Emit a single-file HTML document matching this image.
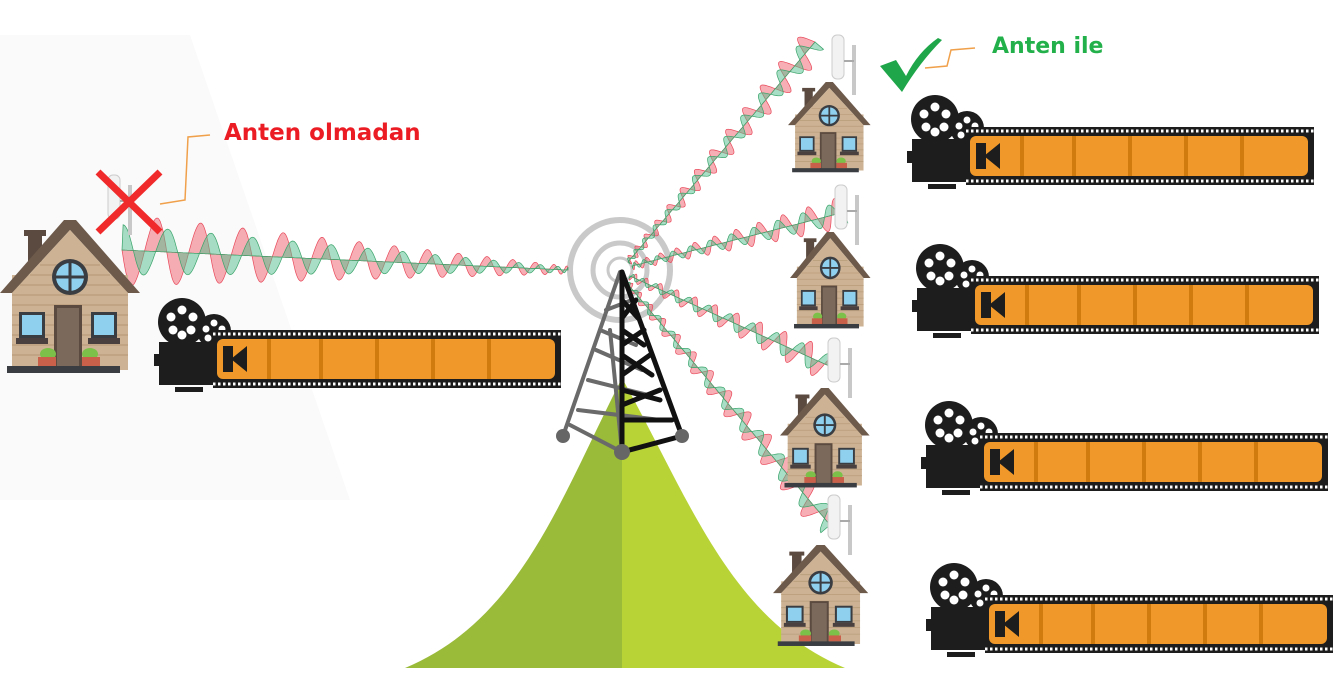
<!DOCTYPE html>
<html><head><meta charset="utf-8"><style>
html,body{margin:0;padding:0;background:#fff;}
svg{display:block;}
text{font-family:"DejaVu Sans","Liberation Sans",sans-serif;font-weight:bold;}
</style></head><body>
<svg id="s" width="1338" height="674" viewBox="0 0 1338 674" xmlns="http://www.w3.org/2000/svg">
<defs>
<g id="house">
 <rect x="28" y="12" width="14" height="30" fill="#5b4a3f"/>
 <rect x="24" y="10" width="22" height="6" fill="#5b4a3f"/>
 <rect x="12" y="55" width="116" height="95" fill="#cdb394"/>
 <g stroke="#b89c7a" stroke-width="1.2">
  <line x1="12" y1="65" x2="128" y2="65"/><line x1="12" y1="75" x2="128" y2="75"/><line x1="12" y1="85" x2="128" y2="85"/><line x1="12" y1="95" x2="128" y2="95"/><line x1="12" y1="105" x2="128" y2="105"/><line x1="12" y1="115" x2="128" y2="115"/><line x1="12" y1="125" x2="128" y2="125"/><line x1="12" y1="135" x2="128" y2="135"/>
 </g>
 <polygon points="0,73 64,0 76,0 140,73 128,73 70,10 12,73" fill="#6e5a4b"/>
 <polygon points="12,73 70,10 128,73" fill="#cdb394"/>
 <g stroke="#b89c7a" stroke-width="1.2"><line x1="40" y1="45" x2="100" y2="45"/><line x1="30" y1="55" x2="110" y2="55"/><line x1="20" y1="65" x2="120" y2="65"/></g>
 <circle cx="70" cy="57" r="18" fill="#3a3d42"/>
 <circle cx="70" cy="57" r="14" fill="#8fd0ef"/>
 <line x1="70" y1="42" x2="70" y2="72" stroke="#3a3d42" stroke-width="3"/>
 <line x1="55" y1="57" x2="85" y2="57" stroke="#3a3d42" stroke-width="3"/>
 <rect x="54" y="85" width="28" height="62" fill="#5b4a3f"/>
 <rect x="57" y="88" width="22" height="59" fill="#7b6a5c"/>
 <rect x="19" y="92" width="26" height="26" fill="#3a3d42"/><rect x="22" y="95" width="20" height="20" fill="#8fd0ef"/>
 <rect x="91" y="92" width="26" height="26" fill="#3a3d42"/><rect x="94" y="95" width="20" height="20" fill="#8fd0ef"/>
 <rect x="16" y="118" width="32" height="6" fill="#4a4040"/><rect x="88" y="118" width="32" height="6" fill="#4a4040"/>
 <ellipse cx="48" cy="134" rx="8" ry="6" fill="#7cc04a"/><ellipse cx="90" cy="134" rx="8" ry="6" fill="#7cc04a"/>
 <rect x="38" y="137" width="18" height="9" fill="#c9604a"/><rect x="82" y="137" width="18" height="9" fill="#c9604a"/>
 <rect x="7" y="146" width="113" height="7" fill="#3a3d42"/>
</g>
<g id="film">
 <circle cx="37" cy="24" r="24" fill="#1d1d1d"/>
 <g fill="#fff"><circle cx="37" cy="12" r="4.5"/><circle cx="48" cy="19" r="4.5"/><circle cx="46" cy="32" r="4.5"/><circle cx="28" cy="32" r="4.5"/><circle cx="26" cy="19" r="4.5"/><circle cx="37" cy="37" r="4.5"/></g>
 <circle cx="69" cy="33" r="17" fill="#1d1d1d"/>
 <g fill="#fff"><circle cx="69" cy="25" r="3.5"/><circle cx="77" cy="31" r="3.5"/><circle cx="74" cy="40" r="3.5"/><circle cx="63" cy="40" r="3.5"/><circle cx="61" cy="31" r="3.5"/></g>
 <rect x="9" y="56" width="8" height="12" fill="#1d1d1d"/>
 <rect x="14" y="44" width="70" height="43" fill="#1d1d1d"/>
 <rect x="30" y="89" width="28" height="5" fill="#1d1d1d"/>
 <rect x="68" y="32" width="348" height="58" fill="#1d1d1d"/>
 <line x1="68" y1="36" x2="416" y2="36" stroke="#fff" stroke-width="3" stroke-dasharray="2.5 2.5"/>
 <line x1="68" y1="86" x2="416" y2="86" stroke="#fff" stroke-width="3" stroke-dasharray="2.5 2.5"/>
 <rect x="72" y="41" width="338" height="40" rx="6" fill="#f0992a"/>
 <g fill="#cf7b0e"><rect x="122" y="41" width="4" height="40"/><rect x="174" y="41" width="4" height="40"/><rect x="230" y="41" width="4" height="40"/><rect x="286" y="41" width="4" height="40"/><rect x="342" y="41" width="4" height="40"/></g>
 <rect x="78" y="48" width="10" height="26" fill="#1d1d1d"/>
 <polygon points="86,61 102,48 102,74" fill="#1d1d1d"/>
</g>
<g id="ant">
 <rect x="0" y="0" width="12" height="44" rx="5" fill="#f2f2f2" stroke="#ccc"/>
 <rect x="20" y="10" width="4" height="50" fill="#c8c8c8"/>
 <line x1="12" y1="26" x2="22" y2="26" stroke="#aaa" stroke-width="2"/>
</g>
</defs>
<rect width="1338" height="674" fill="#fff"/>
<polygon points="0,35 190,35 350,500 0,500" fill="#fafafa"/>
<path d="M405,668 C520,620 560,500 622,378 L622,668 Z" fill="#9aba3a"/>
<path d="M622,378 C690,500 730,620 845,668 L622,668 Z" fill="#b7d336"/>
<g fill="none" stroke="#c9c9c9">
<circle cx="620" cy="270" r="50" stroke-width="6"/><circle cx="620" cy="270" r="27" stroke-width="5"/><circle cx="620" cy="270" r="12" stroke-width="3"/>
</g>
<g id="waves"></g>
<g stroke-linecap="round" fill="none">
<g stroke="#6a6a6a" stroke-width="4">
 <path d="M620,272 L563,436"/><path d="M610,330 L622,452"/>
 <path d="M606,310 L632,300 M600,330 L636,345 M596,350 L642,370 M588,380 L648,395 M578,410 L660,420 M570,425 L622,452"/>
</g>
<g stroke="#111" stroke-width="5">
 <path d="M622,272 L682,436"/><path d="M622,272 L622,452"/>
 <path d="M622,300 L638,318 M622,330 L644,345 M622,355 L652,375 M622,390 L660,400 M622,420 L672,420 M682,436 L622,452"/>
 <path d="M622,318 L636,300 M622,345 L644,330 M622,375 L650,355 M622,405 L660,390"/>
</g>
</g>
<circle cx="563" cy="436" r="7" fill="#666"/><circle cx="682" cy="436" r="7" fill="#666"/><circle cx="622" cy="452" r="8" fill="#666"/>
<use href="#ant" x="108" y="175"/>
<use href="#house" x="0" y="220"/>
<use href="#film" x="145" y="298"/>
<use href="#ant" x="832" y="35"/>
<use href="#house" transform="translate(788,82) scale(0.59)"/>
<use href="#film" x="898" y="95"/>
<use href="#ant" x="835" y="185"/>
<use href="#house" transform="translate(790,232) scale(0.575,0.63)"/>
<use href="#film" x="903" y="244"/>
<use href="#ant" x="828" y="338"/>
<use href="#house" transform="translate(780,388) scale(0.64,0.65)"/>
<use href="#film" x="912" y="401"/>
<use href="#ant" x="828" y="495"/>
<use href="#house" transform="translate(773,545) scale(0.68,0.66)"/>
<use href="#film" x="917" y="563"/>
<g stroke="#f02a2a" stroke-width="7" stroke-linecap="butt"><line x1="98" y1="172" x2="160" y2="232"/><line x1="160" y1="172" x2="98" y2="232"/></g>
<path d="M880,66 L896,60 L906,76 Q918,52 938,38 L942,40 Q920,62 902,92 Z" fill="#1fa64a"/>
<g stroke="#f0a04a" stroke-width="1.5" fill="none">
<polyline points="160,204 185,200 188,137 210,135"/>
<polyline points="925,68 947,66 951,50 975,48"/>
</g>
<text x="224" y="140" fill="#ec1c24" font-size="23">Anten olmadan</text>
<text x="992" y="53" fill="#22b04b" font-size="22">Anten ile</text>
</svg>
<script>
(function(){
var g=document.getElementById('waves'),NS='http://www.w3.org/2000/svg';
function wave(x0,y0,x1,y1,a0,a1,n){
 var dx=x1-x0,dy=y1-y0,L=Math.hypot(dx,dy),ux=dx/L,uy=dy/L,px=-uy,py=ux;
 [['#e8485a',0,'rgba(240,110,120,0.55)'],['#3aa36a',Math.PI/2,'rgba(80,190,140,0.5)']].forEach(function(c){
  var d='',N=400;
  for(var i=0;i<=N;i++){var t=i/N;var ph=n*2*Math.PI*Math.pow(t,0.7)+c[1];var a=(a0+(a1-a0)*t)*Math.sin(ph);
   if(c[1]) a*=0.7;
   var x=x0+dx*t+px*a,y=y0+dy*t+py*a;d+=(i?'L':'M')+x.toFixed(1)+','+y.toFixed(1);}
  for(var i=N;i>=0;i--){var t=i/N;d+='L'+(x0+dx*t).toFixed(1)+','+(y0+dy*t).toFixed(1);}
  var p=document.createElementNS(NS,'path');p.setAttribute('d',d+'Z');p.setAttribute('fill',c[2]);p.setAttribute('stroke',c[0]);p.setAttribute('stroke-width','0.7');g.appendChild(p);
 });
}
wave(568,270,122,250,4,36,14);
wave(628,262,815,42,4,16,13);
wave(632,266,845,212,4,16,11);
wave(630,276,838,370,4,17,11);
wave(626,282,830,525,4,17,13);
})();
</script>
</body></html>
